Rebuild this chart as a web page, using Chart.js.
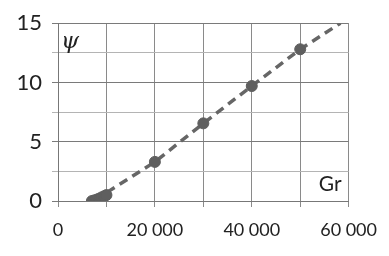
<!DOCTYPE html>
<html>
  <head>
    <title>psi vs Gr</title>
    <script src="https://cdn.jsdelivr.net/npm/chart.js"></script>
    <style>
      body { margin: 0; background: #fff; }
      #wrap { width: 389px; height: 256px; }
    </style>
  </head>
  <body>
    <div id="wrap"><canvas id="myChart"></canvas></div>
    <script>
      // measured points
      const gr = [7000, 7500, 8000, 8500, 9000, 9500, 10000, 20000, 30000, 40000, 50000];
      const psi = [0, 0.05, 0.12, 0.2, 0.3, 0.4, 0.5, 3.3, 6.55, 9.7, 12.8];
      // dashed fit line
      const fitGr = [7500, 20000, 30000, 40000, 50000, 58300];
      const fitPsi = [0.05, 3.3, 6.55, 9.7, 12.8, 15];
      const xTicks = [0, 20000, 40000, 60000];
      const yTicks = [0, 5, 10, 15];

      const fmt = (v) => String(v).replace(/\B(?=(\d{3})+(?!\d))/g, "\u202f");

      const labels = {
        id: "labels",
        afterDraw(chart) {
          const c = chart.ctx, a = chart.chartArea;
          c.save();
          c.fillStyle = "#222";
          c.font = "italic 23px 'DejaVu Serif'";
          c.textBaseline = "top";
          c.fillText("\u03c8", a.left + 3, a.top + 7);
          c.font = "21px Lato";
          c.textAlign = "right";
          c.textBaseline = "bottom";
          c.fillText("Gr", a.right - 7, a.bottom - 6);
          c.restore();
        },
      };

      const config = {
        type: "scatter",
        data: {
          datasets: [
            {
              data: gr.map((x, i) => ({ x: x, y: psi[i] })),
              backgroundColor: "#5f5f5f",
              borderColor: "#5f5f5f",
              pointRadius: 5.5,
              order: 1,
            },
            {
              data: fitGr.map((x, i) => ({ x: x, y: fitPsi[i] })),
              showLine: true,
              borderColor: "#666",
              borderWidth: 3.5,
              borderDash: [9, 6],
              pointRadius: 0,
              order: 2,
            },
          ],
        },
        plugins: [labels],
        options: {
          responsive: false,
          animation: false,
          layout: { padding: { top: 16, right: 39, left: 0, bottom: 0 } },
          plugins: { legend: { display: false }, tooltip: { enabled: false } },
          scales: {
            x: {
              type: "linear",
              min: 0,
              max: 60000,
              afterFit: (s) => { s.height = 55; },
              afterBuildTicks: (s) => {
                s.ticks = [0, 10000, 20000, 30000, 40000, 50000, 60000].map((v) => ({ value: v }));
              },
              ticks: {
                color: "#222",
                font: { family: "Lato", size: 18 },
                padding: 12,
                maxRotation: 0,
                autoSkip: false,
                callback: (v) => (xTicks.includes(v) ? fmt(v) : ""),
              },
              grid: { color: "#8a8a8a", tickLength: 6, lineWidth: 1 },
              border: { color: "#777" },
            },
            y: {
              min: 0,
              max: 15,
              afterFit: (s) => { s.width = 58; },
              afterBuildTicks: (s) => {
                s.ticks = [0, 2.5, 5, 7.5, 10, 12.5, 15].map((v) => ({ value: v }));
              },
              ticks: {
                color: "#222",
                font: { family: "Lato", size: 22 },
                padding: 10,
                autoSkip: false,
                callback: (v) => (yTicks.includes(v) ? String(v) : ""),
              },
              grid: {
                color: (ctx) => (yTicks.includes(ctx.tick && ctx.tick.value) ? "#7a7a7a" : "#b4b4b4"),
                tickLength: 6,
              },
              border: { color: "#777" },
            },
          },
        },
      };

      const cv = document.getElementById("myChart");
      cv.width = 389;
      cv.height = 256;
      var myChart = new Chart(cv, config);
    </script>
  </body>
</html>
